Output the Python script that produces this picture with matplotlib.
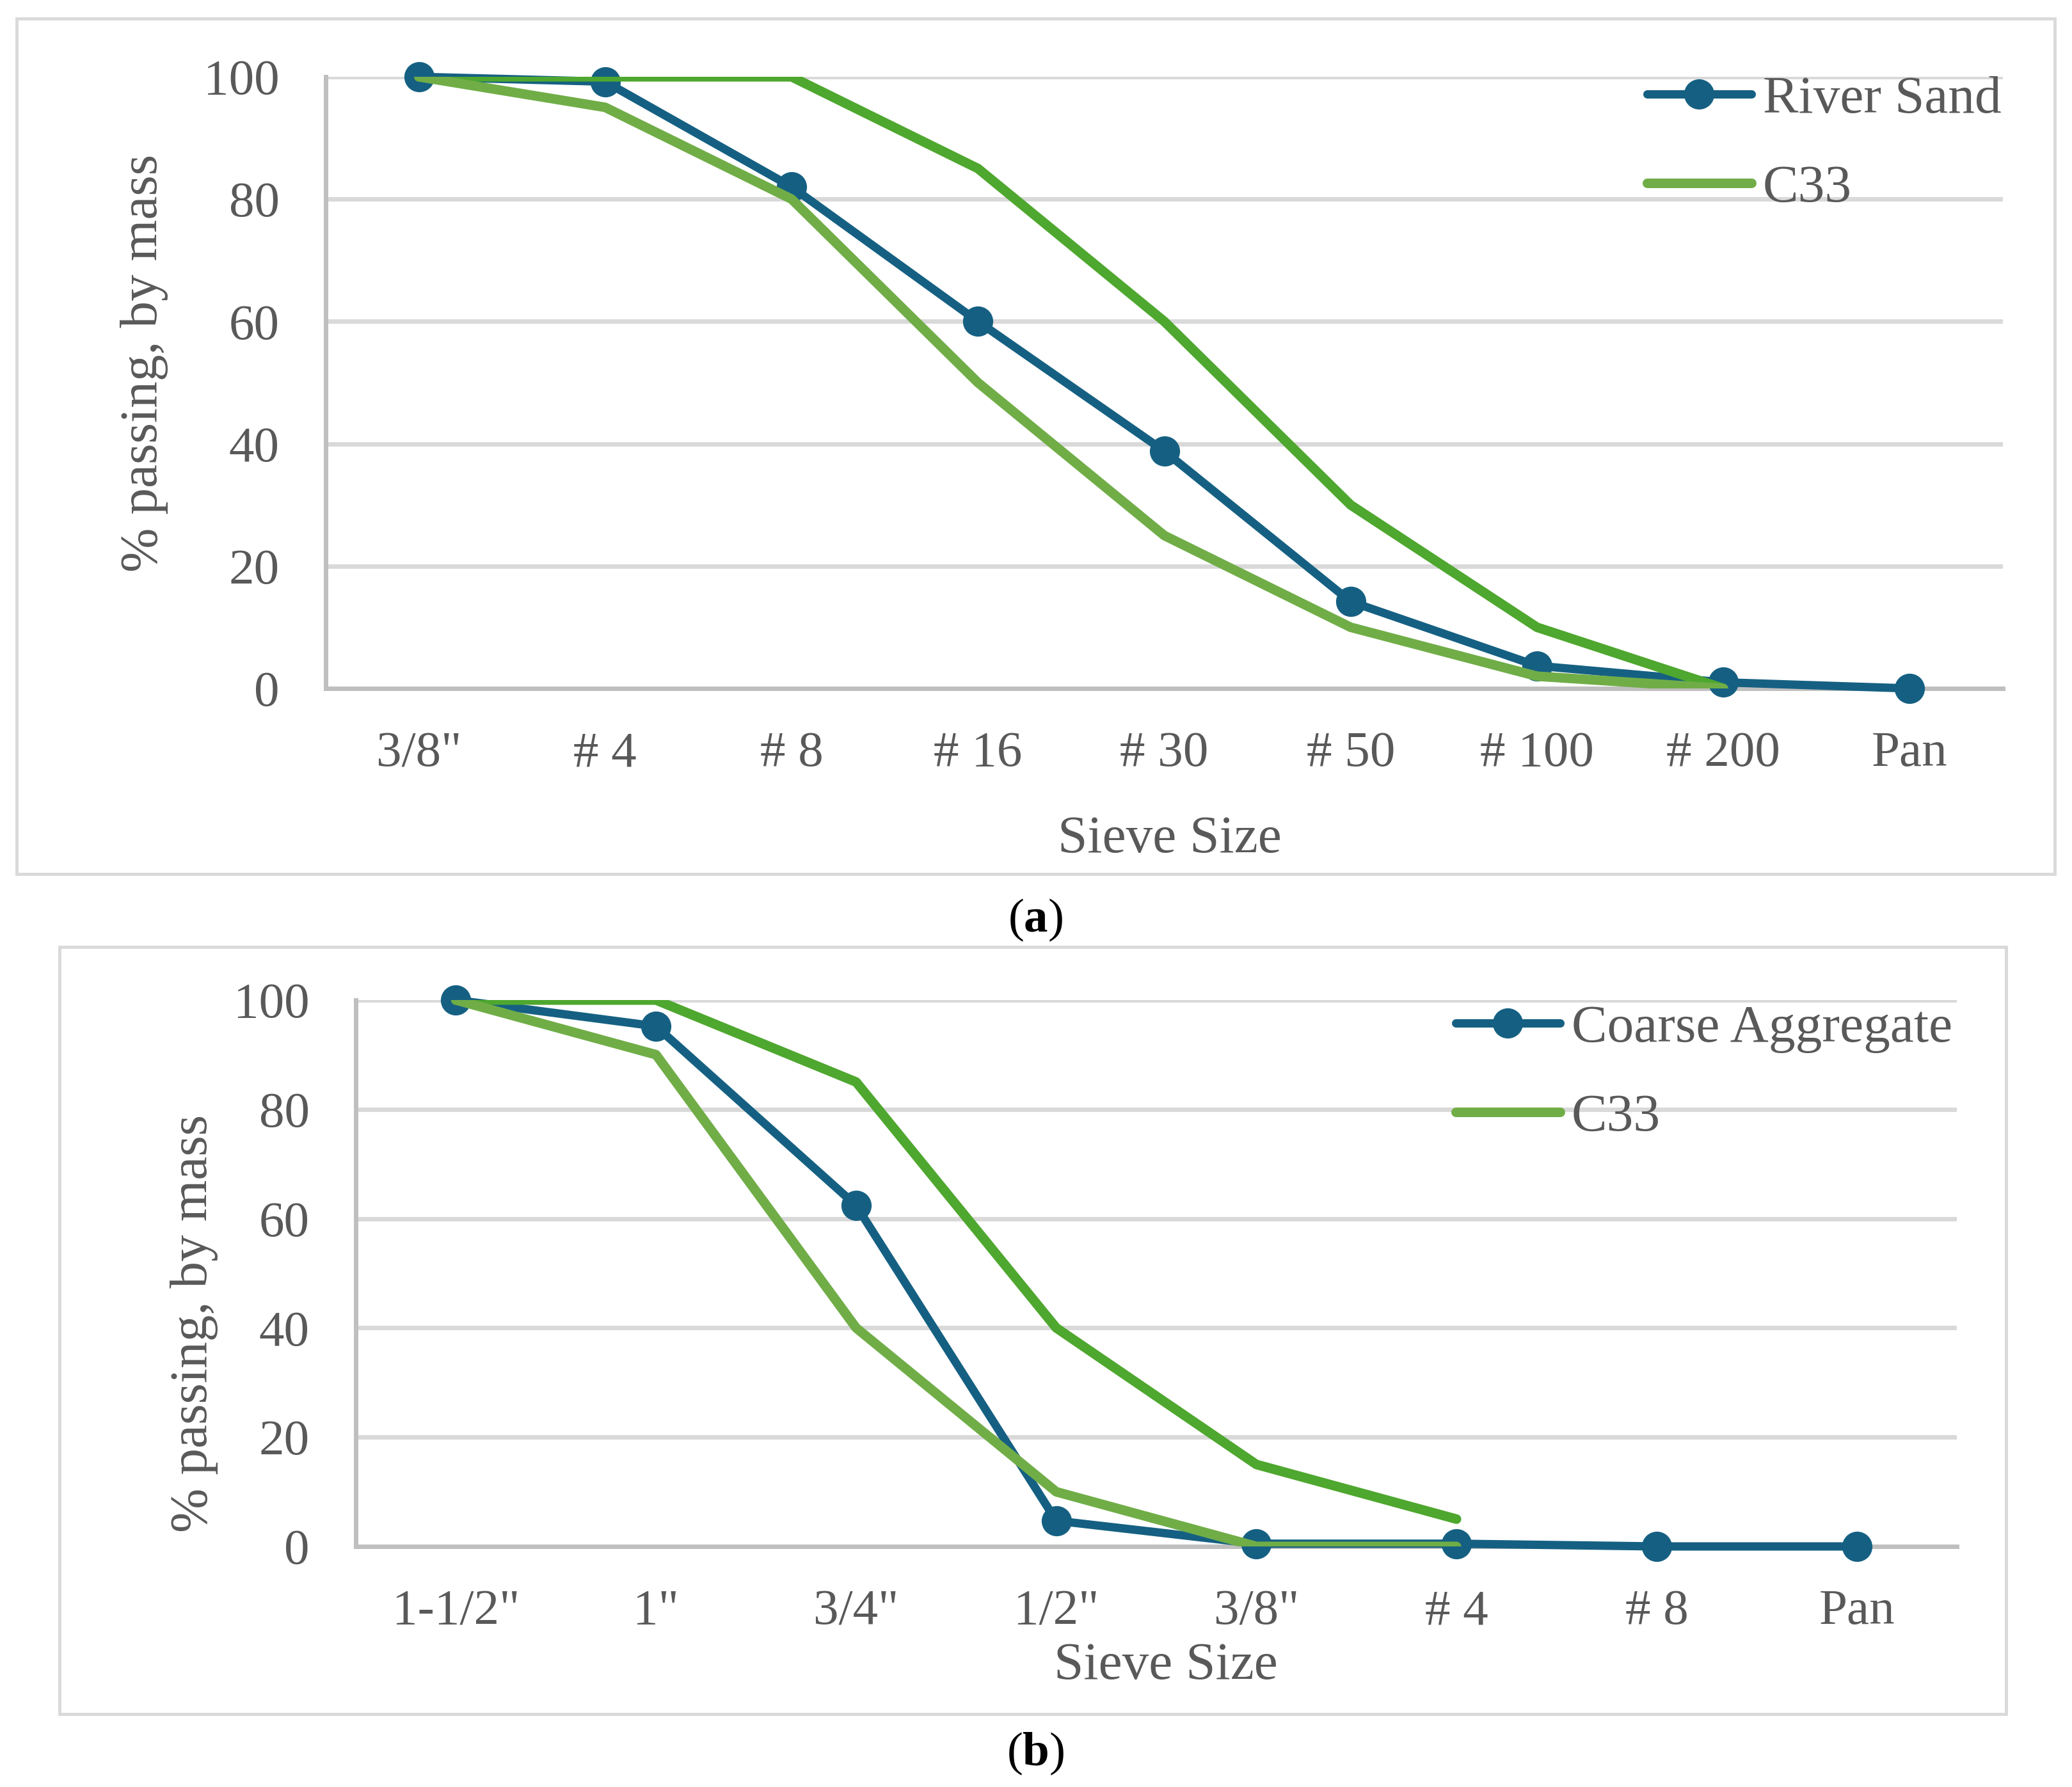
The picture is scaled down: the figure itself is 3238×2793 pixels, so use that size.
import matplotlib.pyplot as plt
from matplotlib.patches import Rectangle

# sieve analysis, fine aggregate (a)
sand_sieves = ['3/8"', '# 4', '# 8', '# 16', '# 30', '# 50', '# 100', '# 200', 'Pan']
river_sand = [100, 99.2, 82, 60, 38.8, 14.2, 3.7, 1.0, 0]
sand_c33_lower = [100, 95, 80, 50, 25, 10, 2, 0]
sand_c33_upper = [100, 100, 100, 85, 60, 30, 10, 0]

# sieve analysis, coarse aggregate (b)
coarse_sieves = ['1-1/2"', '1"', '3/4"', '1/2"', '3/8"', '# 4', '# 8', 'Pan']
coarse_agg = [100, 95.2, 62.4, 4.7, 0.5, 0.5, 0, 0]
coarse_c33_lower = [100, 90, 40, 10, 0, 0]
coarse_c33_upper = [100, 100, 85, 40, 15, 5]

BLUE = '#156082'
GREEN = '#70AD47'
GREEN_DARK = '#4EA72E'
TEXT = '#595959'
GRID = '#D9D9D9'
AXIS = '#BFBFBF'

W, H = 3238, 2793

plt.rcParams['font.family'] = ['Liberation Serif', 'DejaVu Serif']
plt.rcParams['mathtext.fontset'] = 'custom'
plt.rcParams['mathtext.rm'] = 'Liberation Serif'
plt.rcParams['mathtext.bf'] = 'Liberation Serif:bold'


def rect(l, t, r, b):
    return [l / W, 1 - b / H, (r - l) / W, (b - t) / H]


def pt(x, y):
    return x / W, 1 - y / H


def draw_panel(fig, box, frame, cats, measured, name, lower, upper,
               legend_at, ylabel_at, xlabel_at, caption, caption_at):
    fig.patches.append(Rectangle(pt(frame[0], frame[3]), (frame[2] - frame[0]) / W,
                                 (frame[3] - frame[1]) / H, transform=fig.transFigure,
                                 fill=False, edgecolor=GRID, lw=3.5))
    ax = fig.add_axes(rect(*box))
    ax.plot(range(len(measured)), measured, color=BLUE, lw=9.4, marker='o', ms=33,
            solid_capstyle='round', solid_joinstyle='round', label=name,
            clip_on=False, zorder=3)
    ax.plot(range(len(upper)), upper, color=GREEN_DARK, lw=10.8,
            solid_capstyle='round', solid_joinstyle='round', zorder=4)
    ax.plot(range(len(lower)), lower, color=GREEN, lw=10.8, label='C33',
            solid_capstyle='round', solid_joinstyle='round', zorder=4)

    ax.set_xlim(-0.5, len(cats) - 0.5)
    ax.set_ylim(0, 100)
    ax.set_yticks(range(0, 101, 20))
    ax.set_xticks(range(len(cats)), cats)
    ax.grid(axis='y', color=GRID, lw=5)
    ax.set_axisbelow(True)
    for s in ['top', 'right']:
        ax.spines[s].set_visible(False)
    for s in ['left', 'bottom']:
        ax.spines[s].set_color(AXIS)
        ax.spines[s].set_linewidth(5)
        ax.spines[s].set_zorder(2)
    ax.tick_params(axis='x', length=0, pad=48, labelsize=57, labelcolor=TEXT)
    ax.tick_params(axis='y', length=0, pad=52, labelsize=57, labelcolor=TEXT)

    fig.text(*pt(*ylabel_at), '% passing, by mass', rotation=90, fontsize=60,
             color=TEXT, ha='center', va='center')
    fig.text(*pt(*xlabel_at), 'Sieve Size', fontsize=60, color=TEXT,
             ha='center', va='center')
    fig.text(*pt(*caption_at), caption, fontsize=54, color='black',
             ha='center', va='center')

    ax.legend(loc='upper left', bbox_to_anchor=pt(*legend_at),
              bbox_transform=fig.transFigure, frameon=False, fontsize=60,
              labelcolor=TEXT, handlelength=1.95, handletextpad=0.22,
              labelspacing=0.75, borderpad=0, borderaxespad=0, numpoints=1)
    return ax


fig = plt.figure(figsize=(W / 100, H / 100), dpi=100)

draw_panel(fig, (509, 120, 3130, 1076), (26, 29, 3211, 1366),
           sand_sieves, river_sand, 'River Sand', sand_c33_lower, sand_c33_upper,
           legend_at=(2574, 118), ylabel_at=(225, 567), xlabel_at=(1828, 1312),
           caption=r'($\mathbf{a}$)', caption_at=(1618, 1438))

draw_panel(fig, (556, 1563, 3058, 2417), (93, 1480, 3135, 2679),
           coarse_sieves, coarse_agg, 'Coarse Aggregate', coarse_c33_lower, coarse_c33_upper,
           legend_at=(2275, 1570), ylabel_at=(303, 2068), xlabel_at=(1822, 2604),
           caption=r'($\mathbf{b}$)', caption_at=(1618, 2741))

fig.savefig('out.png', dpi=100)
